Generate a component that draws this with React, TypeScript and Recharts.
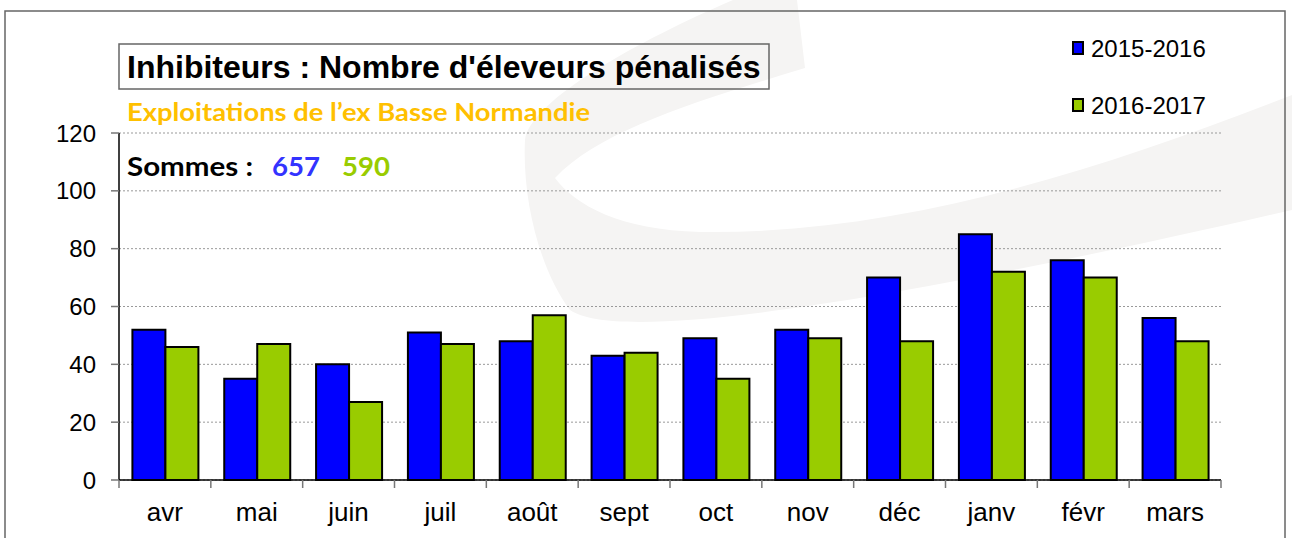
import { Bar, BarChart, CartesianGrid, XAxis, YAxis } from 'recharts';

const months = ["avr", "mai", "juin", "juil", "août", "sept", "oct", "nov", "déc", "janv", "févr", "mars"];
const season1516 = [52, 35, 40, 51, 48, 43, 49, 52, 70, 85, 76, 56];
const season1617 = [46, 47, 27, 47, 57, 44, 35, 49, 48, 72, 70, 48];
const yTicks = [0, 20, 40, 60, 80, 100, 120];
const series = [
    { key: "s1516", name: "2015-2016", fill: "#0000FF" },
    { key: "s1617", name: "2016-2017", fill: "#99CC00" },
];
const sums = [657, 590];

const data = months.map((m, i) => ({ month: m, s1516: season1516[i], s1617: season1617[i] }));

const W = 1292;
const H = 538;
const PLOT_LEFT = 119;
const PLOT_RIGHT = 1221;
const ARIAL = '"Liberation Sans", Arial, sans-serif';
const CALIBRI = 'Lato, "Open Sans", sans-serif';

const MonthTick = (props: any) => {
    const { x, y, payload, index } = props;
    const step = (PLOT_RIGHT - PLOT_LEFT) / months.length;
    return (
        <g>
            <line x1={x - step / 2} x2={x - step / 2} y1={y - 12} y2={y - 4} stroke="#777" strokeWidth={1.5} />
            {index === months.length - 1 && (
                <line x1={x + step / 2} x2={x + step / 2} y1={y - 12} y2={y - 4} stroke="#777" strokeWidth={1.5} />
            )}
            <text x={x} y={y} dy={29} textAnchor="middle" fontSize={26} fontFamily={ARIAL} fill="#000">
                {payload.value}
            </text>
        </g>
    );
};

export default function App() {
    return (
        <div style={{ position: 'fixed', left: 0, top: 0, width: W, height: H, background: '#fff', overflow: 'hidden' }}>
            <svg width={W} height={H} style={{ position: 'absolute', left: 0, top: 0 }}>
                {/* faint swoosh watermark behind the chart */}
                <path
                    d="M733,0 C640,40 530,100 525,140 C522,200 540,270 570,310 C620,345 900,300 1292,210 L1292,95 C1100,170 900,235 700,232 C620,230 575,205 555,178 C600,130 700,100 805,68 L797,0 Z"
                    fill="#F5F4F3"
                />
                <rect x={5} y={11} width={1280} height={560} fill="none" stroke="#666" strokeWidth={1.5} />
            </svg>
            <div style={{ position: 'absolute', left: 0, top: 0 }}>
                <BarChart
                    width={W}
                    height={H}
                    data={data}
                    margin={{ top: 133, right: W - PLOT_RIGHT, left: 0, bottom: 18 }}
                    barCategoryGap="14.6%"
                    barGap={0}
                >
                    <CartesianGrid vertical={false} strokeDasharray="2 2" stroke="#999" />
                    <YAxis
                        width={PLOT_LEFT}
                        domain={[0, 120]}
                        ticks={yTicks}
                        interval={0}
                        tickSize={8}
                        tickMargin={15}
                        axisLine={{ stroke: '#000', strokeWidth: 1.5 }}
                        tickLine={{ stroke: '#777', strokeWidth: 1.5 }}
                        tick={{ fill: '#000', fontSize: 24, fontFamily: ARIAL }}
                    />
                    <XAxis
                        dataKey="month"
                        height={40}
                        interval={0}
                        tickSize={8}
                        tickMargin={4}
                        tickLine={false}
                        axisLine={{ stroke: '#000', strokeWidth: 1.5 }}
                        tick={<MonthTick />}
                    />
                    {series.map((s) => (
                        <Bar
                            key={s.key}
                            dataKey={s.key}
                            name={s.name}
                            fill={s.fill}
                            stroke="#000"
                            strokeWidth={2}
                            isAnimationActive={false}
                        />
                    ))}
                </BarChart>
            </div>
            <svg width={W} height={H} style={{ position: 'absolute', left: 0, top: 0, pointerEvents: 'none' }}>
                <rect x={119} y={44} width={650} height={45} fill="none" stroke="#666" strokeWidth={1.5} />
                <text x={127} y={78} fontSize={32} fontWeight="bold" fontFamily={ARIAL} fill="#000">
                    Inhibiteurs : Nombre d'éleveurs pénalisés
                </text>
                <text x={127} y={121} fontSize={24} fontWeight="bold" fontFamily={CALIBRI} fill="#FFC000"
                    textLength={463} lengthAdjust="spacingAndGlyphs">
                    Exploitations de l’ex Basse Normandie
                </text>
                <text x={127} y={176} fontSize={27} fontWeight="bold" fontFamily={CALIBRI} fill="#000"
                    textLength={126} lengthAdjust="spacingAndGlyphs">
                    Sommes :
                </text>
                <text x={272} y={176} fontSize={27} fontWeight="bold" fontFamily={CALIBRI} fill="#3333FF"
                    textLength={48} lengthAdjust="spacingAndGlyphs">
                    {sums[0]}
                </text>
                <text x={342} y={176} fontSize={27} fontWeight="bold" fontFamily={CALIBRI} fill="#99CC00"
                    textLength={48} lengthAdjust="spacingAndGlyphs">
                    {sums[1]}
                </text>
                {series.map((s, i) => (
                    <g key={s.key}>
                        <rect x={1073} y={42 + i * 57} width={10} height={12} fill={s.fill} stroke="#000" strokeWidth={2} />
                        <text x={1091} y={57 + i * 57} fontSize={24} fontFamily={ARIAL} fill="#000">{s.name}</text>
                    </g>
                ))}
            </svg>
        </div>
    );
}
